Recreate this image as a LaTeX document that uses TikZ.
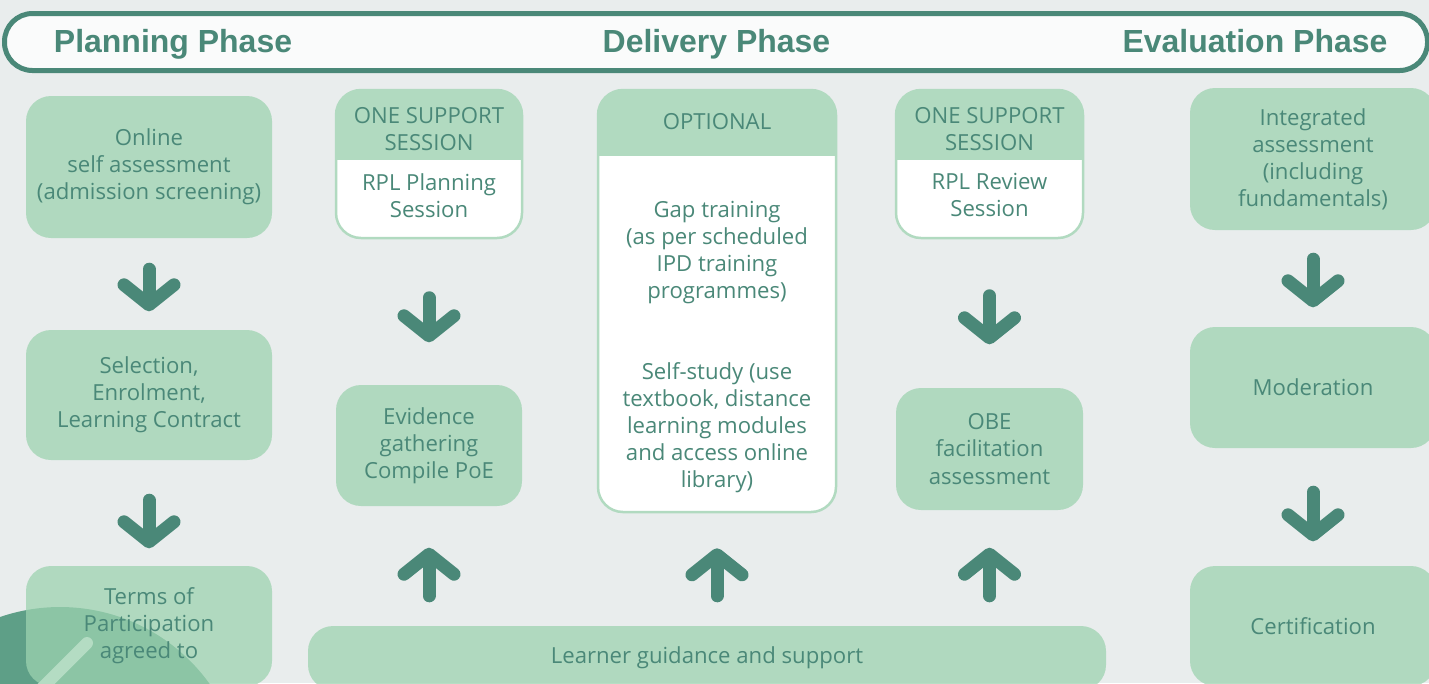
\documentclass[tikz,border=0pt]{standalone}
\usepackage{fontspec}
\setmainfont{Open Sans}
\newfontfamily\headfont{Liberation Sans}
\usetikzlibrary{arrows.meta,calc}
\definecolor{bgcol}{HTML}{E9EDED}
\definecolor{dkgreen}{HTML}{4A8878}
\definecolor{boxgreen}{HTML}{B1DAC0}
\definecolor{softgreen}{HTML}{9DD3B0}
\definecolor{barfill}{HTML}{FAFBFB}
\definecolor{deco}{HTML}{5E9F87}
\definecolor{decoline}{HTML}{B4DCC3}
\tikzstyle{greenbox}=[rectangle,rounded corners=0.25cm,fill=softgreen,fill opacity=0.74,text opacity=1,text=dkgreen,align=center,font=\fontsize{6.3}{7.7}\selectfont,inner sep=0pt]
\tikzstyle{boxtext}=[text=dkgreen,align=center,font=\fontsize{6.3}{7.7}\selectfont,inner sep=0pt]
\tikzstyle{phasetitle}=[text=dkgreen,font=\headfont\bfseries\fontsize{9.1}{11}\selectfont,inner sep=0pt,anchor=base]
\tikzstyle{phasebar}=[rectangle,draw=dkgreen,line width=0.05cm,fill=barfill,rounded corners=0.28cm,inner sep=0pt]
\tikzstyle{flow}=[draw=dkgreen,line width=0.13cm,line cap=round,-{Straight Barb[length=0.2cm,width=0.5cm,round]}]
\tikzset{splitbox/.style={rectangle,rounded corners=0.25cm,draw=boxgreen,line width=0.025cm,fill=white,inner sep=0pt,
    path picture={\fill[boxgreen,sharp corners] (path picture bounding box.north west) rectangle ([yshift=-#1]path picture bounding box.north east);}}}

\begin{document}
\begin{tikzpicture}[x=1cm,y=-1cm]
    \path[use as bounding box,fill=bgcol] (0,0) rectangle (14.29,6.83);

    % corner decoration
    \fill[deco] (0.60,7.91) circle (1.84);

    % phase bar
    \node[phasebar,minimum width=14.23cm,minimum height=0.57cm] (bar) at (7.16,0.42) {};
    \node[phasetitle] (planphase) at (1.73,0.52) {Planning Phase};
    \node[phasetitle] (delphase) at (7.165,0.52) {Delivery Phase};
    \node[phasetitle] (evalphase) at (12.55,0.52) {Evaluation Phase};

    % planning column
    \node[greenbox,minimum width=2.46cm,minimum height=1.42cm] (online) at (1.49,1.67) {Online\\self assessment\\(admission screening)};
    \node[greenbox,minimum width=2.46cm,minimum height=1.30cm] (select) at (1.49,3.95) {Selection,\\Enrolment,\\Learning Contract};
    \node[greenbox,minimum width=2.46cm,minimum height=1.20cm] (terms) at (1.49,6.26) {Terms of\\Participation\\agreed to};

    % delivery columns
    \node[splitbox=0.70cm,minimum width=1.86cm,minimum height=1.48cm] (planning) at (4.29,1.64) {};
    \node[boxtext] (planhead) at ([yshift=-0.405cm]planning.north) {ONE SUPPORT\\SESSION};
    \node[boxtext] (planbody) at ([yshift=-1.065cm]planning.north) {RPL Planning\\Session};
    \node[greenbox,minimum width=1.86cm,minimum height=1.21cm] (evidence) at (4.29,4.455) {Evidence\\gathering\\Compile PoE};

    \node[splitbox=0.66cm,minimum width=2.38cm,minimum height=4.22cm] (optional) at (7.17,3.01) {};
    \node[boxtext] (opthead) at ([yshift=-0.33cm]optional.north) {OPTIONAL};
    \node[boxtext] (gap) at ([yshift=-1.635cm]optional.north) {Gap training\\(as per scheduled\\IPD training\\programmes)};
    \node[boxtext] (selfstudy) at ([yshift=-3.39cm]optional.north) {Self-study (use\\textbook, distance\\learning modules\\and access online\\library)};

    \node[splitbox=0.70cm,minimum width=1.87cm,minimum height=1.48cm] (review) at (9.895,1.64) {};
    \node[boxtext] (revhead) at ([yshift=-0.405cm]review.north) {ONE SUPPORT\\SESSION};
    \node[boxtext] (revbody) at ([yshift=-1.065cm]review.north) {RPL Review\\Session};
    \node[greenbox,minimum width=1.87cm,minimum height=1.22cm] (obe) at (9.895,4.49) {OBE\\facilitation\\assessment};

    \node[greenbox,minimum width=7.98cm,minimum height=0.64cm] (guide) at (7.07,6.58) {Learner guidance and support};

    % evaluation column
    \node[greenbox,minimum width=2.46cm,minimum height=1.42cm] (integrated) at (13.13,1.59) {Integrated\\assessment\\(including\\fundamentals)};
    \node[greenbox,minimum width=2.46cm,minimum height=1.21cm] (moderation) at (13.13,3.875) {Moderation};
    \node[greenbox,minimum width=2.46cm,minimum height=1.20cm] (certification) at (13.13,6.26) {Certification};

    \draw[decoline,line width=0.12cm,line cap=round] (0.87,6.43) -- (0.30,7.00);

    % arrows
    \foreach \src/\dst/\s/\e in {online/select/0.305/0.18, select/terms/0.395/0.17, planning/evidence/0.585/0.42,
        review/obe/0.565/0.43, integrated/moderation/0.285/0.19, moderation/certification/0.435/0.24}
        \draw[flow,shorten <=\s cm,shorten >=\e cm] (\src) -- (\dst);
    \foreach \dst/\e in {evidence/0.41, optional/0.35, obe/0.37}
        \draw[flow,shorten <=0.295cm,shorten >=\e cm] (\dst |- guide.north) -- (\dst);

\end{tikzpicture}
\end{document}
